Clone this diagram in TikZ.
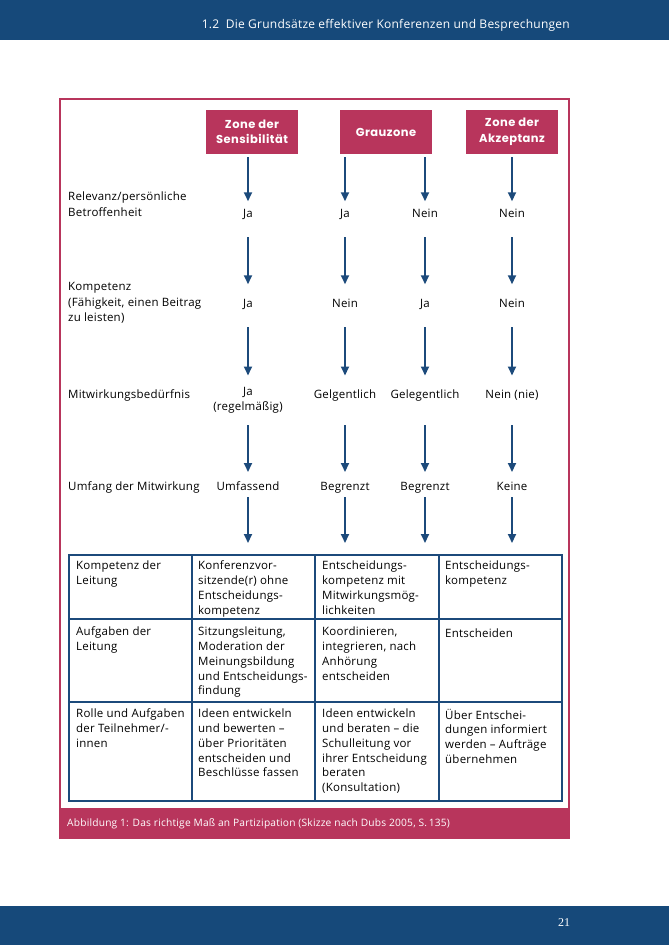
\documentclass[tikz,border=0pt]{standalone}
\usepackage{fontspec}
\setmainfont{Open Sans}[LetterSpace=2]
\newfontfamily\zonefont{Poppins}[LetterSpace=4]
\newfontfamily\numfont{Liberation Serif}
\usetikzlibrary{arrows.meta,calc}
\definecolor{hblue}{HTML}{16497A}
\definecolor{crim}{HTML}{B8355C}
\definecolor{tblue}{HTML}{1C4A7B}
\begin{document}
\begin{tikzpicture}[x=1pt,y=-1pt,
  arr/.style={draw=tblue,line width=2pt,-{Triangle[length=9pt,width=8pt]}},
  zone/.style={fill=crim,text=white,minimum width=92pt,minimum height=44pt,inner sep=0pt,
    font=\zonefont\bfseries\fontsize{11.5}{15.5}\selectfont,align=center},
  lbl/.style={anchor=north west,inner sep=0pt,align=left,
    font=\fontsize{11.5}{15.5}\selectfont,execute at begin node=\strut},
  val/.style={anchor=north,inner sep=0pt,align=center,
    font=\fontsize{11.5}{15.5}\selectfont,execute at begin node=\strut},
  cell/.style={anchor=north west,inner sep=0pt,align=left,
    font=\fontsize{11.5}{14.8}\selectfont,execute at begin node=\strut},
  grid/.style={draw=tblue,line width=2.4pt}
]
\useasboundingbox (0,0) rectangle (669,945);
% header and footer bands
\fill[hblue] (0,0) rectangle (669,40);
\fill[hblue] (0,906) rectangle (669,945);
\node[anchor=east,inner sep=0pt,text=white,font=\fontsize{12}{14}\selectfont] (head) at (570,25)
  {1.2\ \ Die Grundsätze effektiver Konferenzen und Besprechungen};
\node[inner sep=0pt,text=white,font=\numfont\fontsize{12}{14}\selectfont] (pnum) at (564,923) {21};
% frame
\draw[crim,line width=2pt] (60,99) rectangle (569,838);
\fill[crim] (60,808) rectangle (569,838);
\node[anchor=west,inner sep=0pt,text=white,font=\fontsize{10.2}{12}\selectfont] (cap) at (67,824)
  {Abbildung 1: Das richtige Maß an Partizipation (Skizze nach Dubs 2005, S.\,135)};
% zone boxes
\node[zone] (z1) at (252,132) {Zone der\\Sensibilität};
\node[zone] (z2) at (386,132) {Grauzone};
\node[zone] (z3) at (512,132) {Zone der\\Akzeptanz};
% left labels
\node[lbl] (l1) at (68,192) {Relevanz/persönliche\\Betroffenheit};
\node[lbl] (l2) at (68,282.5) {Kompetenz\\(Fähigkeit, einen Beitrag\\zu leisten)};
\node[lbl] (l3) at (68,387) {Mitwirkungsbedürfnis};
\node[lbl] (l4) at (68,479) {Umfang der Mitwirkung};
% values
\node[val] (v11) at (248,206.25) {Ja};
\node[val] (v12) at (345,206.25) {Ja};
\node[val] (v13) at (425,206.25) {Nein};
\node[val] (v14) at (512,206.25) {Nein};
\node[val] (v21) at (248,296.25) {Ja};
\node[val] (v22) at (345,296.25) {Nein};
\node[val] (v23) at (425,296.25) {Ja};
\node[val] (v24) at (512,296.25) {Nein};
\node[val] (v31) at (248,387) {Ja\\(regelmäßig)};
\node[val] (v32) at (345,387) {Gelgentlich};
\node[val] (v33) at (425,387) {Gelegentlich};
\node[val] (v34) at (512,387) {Nein (nie)};
\node[val] (v41) at (248,479) {Umfassend};
\node[val] (v42) at (345,479) {Begrenzt};
\node[val] (v43) at (425,479) {Begrenzt};
\node[val] (v44) at (512,479) {Keine};
% table targets
\coordinate (t1) at (248,555);
\coordinate (t2) at (345,555);
\coordinate (t3) at (425,555);
\coordinate (t4) at (512,555);
% arrows
\draw[arr] (z1.south -| v11) ++(0,3) -- ($(v11.north)+(0,-5)$);
\draw[arr] (z2.south -| v12) ++(0,3) -- ($(v12.north)+(0,-5)$);
\draw[arr] (z2.south -| v13) ++(0,3) -- ($(v13.north)+(0,-5)$);
\draw[arr] (z3.south -| v14) ++(0,3) -- ($(v14.north)+(0,-5)$);
\foreach \c in {1,2,3,4}{
  \draw[arr] ($(v1\c.north)+(0,30.75)$) -- ($(v2\c.north)+(0,-12)$);
  \draw[arr] ($(v2\c.north)+(0,30.75)$) -- ($(v3\c.north)+(0,-11.5)$);
  \draw[arr] ($(v3\c.north)+(0,38)$) -- ($(v4\c.north)+(0,-7)$);
  \draw[arr] ($(v4\c.north)+(0,18)$) -- ($(t\c)+(0,-12)$);
}
% table
\draw[grid] (69,555) rectangle (562,801);
\draw[grid] (192,555) -- (192,801);
\draw[grid] (315,555) -- (315,801);
\draw[grid] (439,555) -- (439,801);
\draw[grid] (69,619) -- (562,619);
\draw[grid] (69,702) -- (562,702);
% row A
\node[cell] (a1) at (76,560.7) {Kompetenz der\\Leitung};
\node[cell] (a2) at (198,560.7) {Konferenzvor-\\sitzende(r) ohne\\Entscheidungs-\\kompetenz};
\node[cell] (a3) at (322,560.7) {Entscheidungs-\\kompetenz mit\\Mitwirkungsmög-\\lichkeiten};
\node[cell] (a4) at (445,560.7) {Entscheidungs-\\kompetenz};
% row B
\node[cell] (b1) at (76,626.7) {Aufgaben der\\Leitung};
\node[cell] (b2) at (198,626.7) {Sitzungsleitung,\\Moderation der\\Meinungsbildung\\und Entscheidungs-\\findung};
\node[cell] (b3) at (322,626.7) {Koordinieren,\\integrieren, nach\\Anhörung\\entscheiden};
\node[cell] (b4) at (445,626.7) {Entscheiden};
% row C
\node[cell] (c1) at (76,708.7) {Rolle und Aufgaben\\der Teilnehmer/-\\innen};
\node[cell] (c2) at (198,708.7) {Ideen entwickeln\\und bewerten --\\über Prioritäten\\entscheiden und\\Beschlüsse fassen};
\node[cell] (c3) at (322,708.7) {Ideen entwickeln\\und beraten -- die\\Schulleitung vor\\ihrer Entscheidung\\beraten\\(Konsultation)};
\node[cell] (c4) at (445,708.7) {Über Entschei-\\dungen informiert\\werden -- Aufträge\\übernehmen};
\end{tikzpicture}
\end{document}
